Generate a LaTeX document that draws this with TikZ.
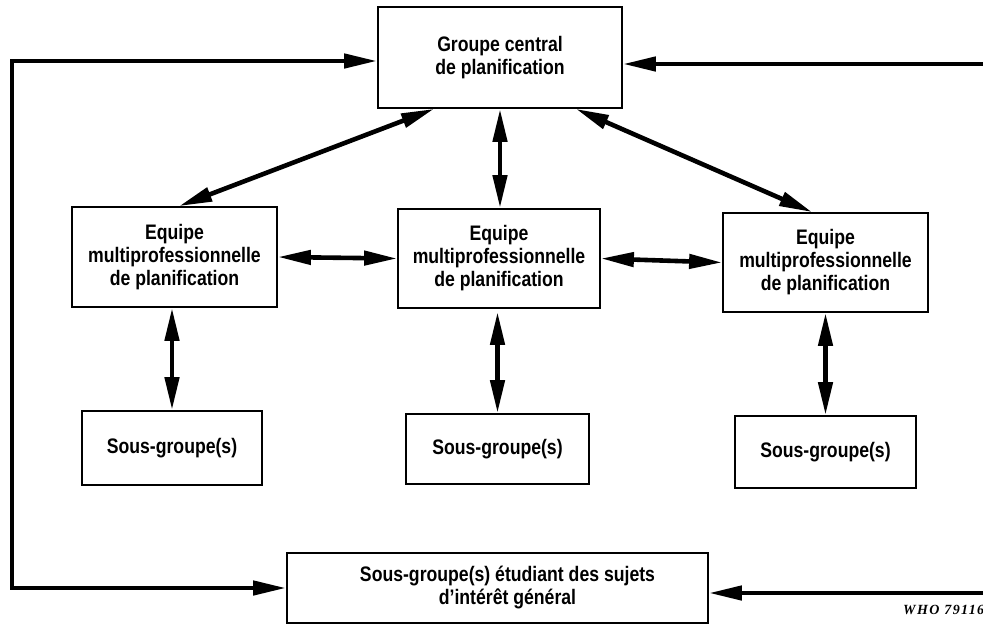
\documentclass[tikz,border=0pt]{standalone}
\usepackage{fontspec}
\setmainfont{Liberation Sans}[FakeStretch=0.84]
\newfontfamily\codefont{Liberation Serif}[LetterSpace=10]
\usetikzlibrary{arrows.meta}
\begin{document}
\begin{tikzpicture}[x=1pt,y=-1pt,
  box/.style={draw,line width=1.8pt,rectangle,inner sep=0pt,align=center,
    font=\fontsize{21}{23}\selectfont\bfseries},
  link/.style={line width=4.6pt,
    {Triangle[length=33pt,width=14pt]}-{Triangle[length=33pt,width=14pt]}},
  feed/.style={line width=4.6pt,-{Triangle[length=33pt,width=14pt]}}]
\useasboundingbox (0,0) rectangle (983,625);

% central planning group
\node[box,minimum width=244pt,minimum height=101pt] (top) at (500,57.5)
  {Groupe central\\de planification};

% multiprofessional teams
\node[box,minimum width=205pt,minimum height=100pt] (tl) at (174.5,257)
  {Equipe\\multiprofessionnelle\\de planification};
\node[box,minimum width=202pt,minimum height=99pt] (tc) at (499,258.5)
  {Equipe\\multiprofessionnelle\\de planification};
\node[box,minimum width=205pt,minimum height=99pt] (tr) at (825.5,262.5)
  {Equipe\\multiprofessionnelle\\de planification};

% sub-groups
\node[box,minimum width=180pt,minimum height=74pt] (sl) at (172,448) {Sous-groupe(s)};
\node[box,minimum width=183pt,minimum height=70pt] (sc) at (497.5,449) {Sous-groupe(s)};
\node[box,minimum width=181pt,minimum height=72pt] (sr) at (825.5,452) {Sous-groupe(s)};

% general-interest sub-groups
\node[box,minimum width=421pt,minimum height=70pt] (gen) at (497.5,588)
  {\hspace*{20pt}Sous-groupe(s) étudiant des sujets\\\hspace*{20pt}d’intérêt général};

% links between the central group and the teams
\draw[link] ([xshift=57pt]top.south west) -- ([xshift=108pt]tl.north west);
\draw[link] (top.south) -- (tc.north -| top.south);
\draw[link] ([xshift=-47pt]top.south east) -- ([xshift=90pt]tr.north west);

% links between the teams
\draw[link] (tl.east) -- (tc.west);
\draw[link] (tc.east) -- (tr.west);

% links between teams and their sub-groups
\draw[link] (sl.north |- tl.south) -- (sl.north);
\draw[link,shorten <=3pt] (sc.north |- tc.south) -- (sc.north);
\draw[link] (sr.north |- tr.south) -- (sr.north);

% feedback loops
\coordinate (ltop) at (12,61);
\coordinate (lbot) at (12,588);
\draw[link,line join=miter] (ltop -| top.west) -- (ltop) -- (lbot) -- (lbot -| gen.west);
\coordinate (rtop) at (985,64);
\coordinate (rbot) at (985,593);
\draw[feed] (rtop) -- (rtop -| top.east);
\draw[feed] (rbot) -- (rbot -| gen.east);

% figure code
\node[anchor=base west,inner sep=0pt,font=\codefont\fontsize{14}{14}\selectfont\bfseries\itshape]
  (code) at (903,614) {WHO 79116};
\end{tikzpicture}
\end{document}
